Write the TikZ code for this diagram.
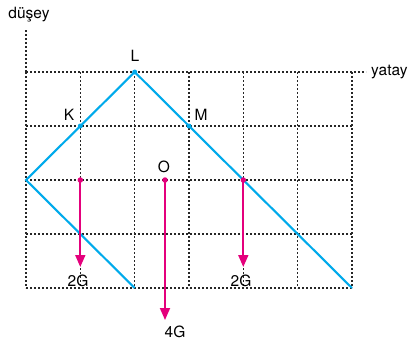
\documentclass[tikz,border=0pt]{standalone}
\usepackage{fontspec}
\setmainfont{TeX Gyre Heros}
\usetikzlibrary{arrows.meta}
\definecolor{lblue}{RGB}{0,170,235}
\definecolor{mag}{RGB}{228,0,124}
\tikzset{
  gridline/.style={black!85, line width=1.1pt, dash pattern=on 2pt off 2pt},
  rod/.style={lblue, line width=2.1pt},
  force/.style={mag, line width=1.8pt, -{Triangle[width=10pt,length=12pt]}},
  lbl/.style={font=\fontsize{15.5}{18}\selectfont, inner sep=0pt},
  bdot/.style={circle, fill=lblue, inner sep=0pt, minimum size=5pt},
  mdot/.style={circle, fill=mag, inner sep=0pt, minimum size=5.5pt}
}
\begin{document}
\begin{tikzpicture}[x=1pt,y=-1pt]
\useasboundingbox (0,0) rectangle (418,346);
% grid
\foreach \x in {26,80.3,134.7,189,243.3,297.7,352}
  \draw[gridline] (\x,72) -- (\x,288);
\foreach \y in {126,180,234,288}
  \draw[gridline] (26,\y) -- (352,\y);
\draw[gridline] (26,72) -- (366,72);
\draw[gridline] (26,30) -- (26,72);
% coordinates
\coordinate (A) at (26,180);
\node[bdot] (L) at (134.7,72) {};
\node[bdot] (K) at (80.3,126) {};
\node[bdot] (M) at (189,126) {};
\coordinate (B) at (134.7,288);
\coordinate (C) at (352,288);
% rods
\draw[rod] (B) -- (A) -- (L.center) -- (C);
% forces
\node[mdot] (P1) at (80.3,180) {};
\node[mdot] (O) at (165,180) {};
\node[mdot] (P2) at (243.3,180) {};
\coordinate (E1) at (80.3,267);
\coordinate (E2) at (165,320);
\coordinate (E3) at (243.3,267);
\draw[force] (P1.center) -- (E1);
\draw[force] (O.center) -- (E2);
\draw[force] (P2.center) -- (E3);
% labels
\node[lbl] (tdusey) at (29,15) {düşey};
\node[lbl, anchor=west] (tyatay) at (371,72) {yatay};
\node[lbl] (tL) at (135,56) {L};
\node[lbl] (tK) at (69,115) {K};
\node[lbl] (tM) at (201,115) {M};
\node[lbl] (tO) at (164,167) {O};
\node[lbl] (t2a) at (78,281) {2G};
\node[lbl] (t2b) at (241,281) {2G};
\node[lbl] (t4) at (175,332) {4G};
\end{tikzpicture}
\end{document}
